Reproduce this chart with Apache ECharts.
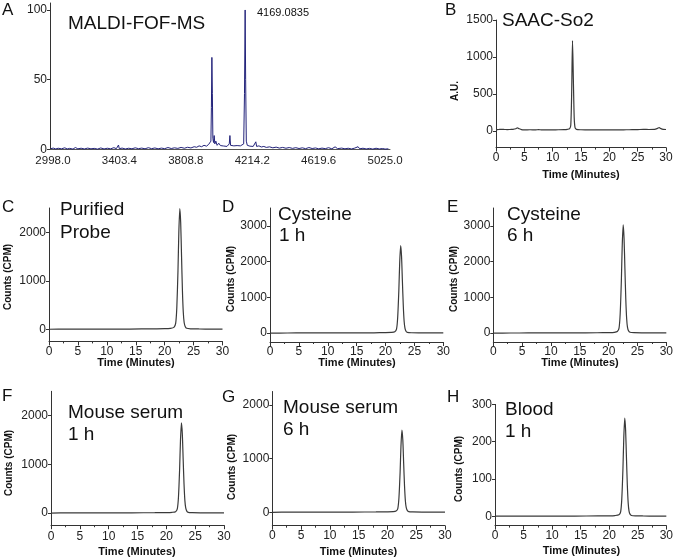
<!DOCTYPE html>
<html>
<head>
<meta charset="utf-8">
<script src="https://cdn.jsdelivr.net/npm/echarts@6/dist/echarts.min.js"></script>
<style>html,body{margin:0;padding:0;background:#fff}#c{width:676px;height:560px}</style>
</head>
<body>
<div id="c"></div>
<script>
// ---------- data ----------
const timeTicks = [0, 5, 10, 15, 20, 25, 30];
const msTicks = [2998.0, 3403.4, 3808.8, 4214.2, 4619.6, 5025.0];
const msYTicks = [0, 50, 100];
const auTicks = [0, 500, 1000, 1500];
const cpm2000Ticks = [0, 1000, 2000];
const cpm3000Ticks = [0, 1000, 2000, 3000];
const bloodTicks = [0, 100, 200, 300];

const maldiSpectrum = [
[2985,0.6],[3000,1.0],[3015,0.4],[3030,0.9],[3050,0.5],[3070,1.2],[3085,0.4],[3100,0.8],[3120,0.3],[3135,1.4],
[3150,0.5],[3170,0.9],[3190,0.4],[3210,1.0],[3230,0.5],[3250,0.8],[3270,0.3],[3290,1.1],[3310,0.4],[3330,0.9],
[3350,0.5],[3370,1.3],[3385,0.6],[3398,3.2],[3403,0.6],[3420,1.0],[3440,0.4],[3460,0.9],[3480,0.5],[3500,1.2],
[3520,0.6],[3540,1.0],[3560,0.5],[3580,1.3],[3600,0.6],[3620,1.1],[3640,0.5],[3660,1.0],[3680,0.6],[3700,1.4],
[3720,0.7],[3740,1.2],[3760,0.8],[3780,1.5],[3800,0.9],[3820,1.6],[3840,1.1],[3860,2.0],[3875,1.6],[3890,2.6],
[3905,2.0],[3920,3.0],[3935,2.4],[3948,3.6],[3956,2.8],[3962,6],[3965,30],[3968,66],[3971,40],[3974,8],
[3978,5],[3982,10],[3986,4],[3992,6],[4000,3],[4010,4.5],[4020,2.8],[4030,3.5],[4040,2.5],[4050,3.2],
[4060,2.2],[4068,3],[4074,4],[4078,10],[4082,3],[4092,3.5],[4102,2.6],[4112,3.4],[4122,2.8],[4132,3.6],
[4142,2.6],[4152,3.2],[4162,4],[4167,40],[4171,100],[4174,50],[4178,6],[4184,3],[4192,3.6],[4200,2.4],
[4210,3],[4220,2.2],[4228,3.2],[4232,2.5],[4236,5.5],[4241,2.2],[4255,2.6],[4270,1.8],[4285,2.2],[4300,1.5],
[4320,1.9],[4340,1.2],[4360,1.7],[4380,1.0],[4400,1.5],[4420,0.9],[4440,1.4],[4460,0.8],[4480,1.3],[4500,0.7],
[4520,1.2],[4540,0.6],[4560,1.4],[4580,0.7],[4600,1.1],[4620,0.5],[4640,1.0],[4660,0.6],[4680,1.3],[4700,0.5],
[4720,1.9],[4735,0.6],[4760,1.0],[4780,0.5],[4800,0.9],[4820,0.4],[4840,1.0],[4860,2.0],[4870,0.5],[4890,0.9],
[4910,0.4],[4930,0.8],[4950,0.3],[4970,0.9],[4990,0.4],[5010,0.7],[5025,0.3],[5045,0.5]
];

const saacSo2 = [
[0,18],[0.5,20],[1,22],[1.5,20],[2,18],[2.5,20],[3,22],[3.5,30],[3.8,42],[4.1,30],[4.5,18],[5,15],[6,16],[7,14],
[7.5,18],[8,15],[9,14],[10,15],[11,16],[12,18],[12.6,22],[13,30],[13.2,80],[13.35,500],[13.5,1220],[13.65,700],
[13.8,180],[13.95,45],[14.2,22],[15,16],[16,15],[17,14],[18,15],[19,14],[20,15],[21,14],[22,15],[23,16],[24,17],
[25,18],[26,22],[27,20],[28,22],[28.5,35],[28.8,45],[29.1,32],[29.5,22],[30,20]
];

const purifiedProbe = [
[0,0],[3,2],[6,3],[10,4],[14,5],[18,8],[20,12],[21,20],[21.6,40],[21.9,120],[22.1,450],[22.3,1200],[22.45,2000],
[22.62,2490],[22.77,2200],[22.92,1500],[23.07,800],[23.22,350],[23.37,140],[23.57,50],[23.8,20],[24.5,10],[26,6],[28,4],[30,3]
];
const cysteine1h = [
[0,0],[3,2],[6,3],[10,3],[14,5],[18,8],[20,12],[21,18],[21.6,35],[21.9,110],[22.1,430],[22.3,1180],[22.45,1960],
[22.62,2445],[22.77,2150],[22.92,1450],[23.07,780],[23.22,330],[23.37,130],[23.57,45],[23.8,18],[24.5,9],[26,6],[28,4],[30,3]
];
const cysteine6h = [
[0,0],[3,2],[6,3],[10,4],[14,6],[18,9],[20,14],[21,22],[21.5,45],[21.8,140],[22.0,540],[22.2,1450],[22.35,2420],
[22.52,3025],[22.67,2650],[22.82,1800],[22.97,960],[23.12,410],[23.27,160],[23.47,55],[23.7,22],[24.4,10],[26,6],[28,4],[30,3]
];
const serum1h = [
[0,0],[3,2],[6,3],[10,3],[14,5],[18,7],[20,10],[21,15],[21.6,28],[21.9,85],[22.1,320],[22.3,890],[22.45,1480],
[22.62,1854],[22.77,1630],[22.92,1100],[23.07,590],[23.22,250],[23.37,100],[23.57,35],[23.8,14],[24.5,8],[26,5],[28,3],[30,2]
];
const serum6h = [
[0,0],[3,2],[6,2],[10,3],[14,4],[18,6],[20,9],[21,13],[21.5,24],[21.8,70],[22.0,270],[22.2,740],[22.35,1230],
[22.52,1533],[22.67,1350],[22.82,910],[22.97,490],[23.12,210],[23.27,85],[23.47,30],[23.7,12],[24.4,7],[26,4],[28,3],[30,2]
];
const blood1h = [
[0,0.3],[3,0.4],[6,0.4],[10,0.5],[14,0.6],[18,0.9],[20,1.3],[21,2],[21.7,4],[22.0,12],[22.2,46],[22.4,126],[22.55,210],
[22.72,263],[22.87,231],[23.02,156],[23.17,84],[23.32,36],[23.47,14],[23.67,5],[23.9,2.2],[24.6,1.2],[26,0.8],[28,0.5],[30,0.4]
];

// ---------- layout / style ----------
const FONT = '"Liberation Sans", Arial, sans-serif';
const AX = '#333';
const panels = [
  {grid:{left:50, top:3, width:340, height:146.5}},
  {grid:{left:496, top:20, width:170, height:127.6}},
  {grid:{left:49, top:208, width:173.5, height:133.4}},
  {grid:{left:270, top:208, width:173.3, height:134}},
  {grid:{left:493.3, top:208, width:173.4, height:134}},
  {grid:{left:51, top:391.3, width:173, height:133.9}},
  {grid:{left:272.3, top:391.5, width:172.7, height:134.2}},
  {grid:{left:495, top:404.4, width:173.3, height:121.2}}
];
const plain = v => String(Math.round(v));

function timeX(i, margin) {
  return {
    gridIndex:i, type:'value', min:0, max:30, interval:5,
    axisLine:{onZero:false, lineStyle:{color:AX, width:1}},
    axisTick:{show:true, length:4, lineStyle:{color:AX}},
    minorTick:{show:true, splitNumber:2, length:2, lineStyle:{color:AX}},
    axisLabel:{fontSize:12, color:'#222', fontFamily:FONT, margin:margin, customValues:timeTicks, formatter:plain},
    splitLine:{show:false}, minorSplitLine:{show:false}
  };
}
function valY(i, min, max, ticks) {
  return {
    gridIndex:i, type:'value', min:min, max:max,
    axisLine:{show:true, onZero:false, lineStyle:{color:AX, width:1}},
    axisTick:{show:true, length:3, lineStyle:{color:AX}, customValues:ticks},
    axisLabel:{fontSize:12, color:'#222', fontFamily:FONT, margin:3, customValues:ticks, formatter:plain},
    splitLine:{show:false}
  };
}

const xAxes = [
  {
    gridIndex:0, type:'value', min:2980, max:5055,
    axisLine:{onZero:false, lineStyle:{color:'#555', width:1}},
    axisTick:{show:false},
    axisLabel:{fontSize:11.5, color:'#222', fontFamily:FONT, margin:5, customValues:msTicks,
               formatter:v => Number(v).toFixed(1)},
    splitLine:{show:false}
  },
  timeX(1, 4), timeX(2, 4), timeX(3, 4), timeX(4, 4), timeX(5, 5), timeX(6, 4), timeX(7, 4)
];
const yAxes = [
  valY(0, 0, 105, msYTicks),
  valY(1, -225, 1500, auTicks),
  valY(2, -250, 2500, cpm2000Ticks),
  valY(3, -250, 3500, cpm3000Ticks),
  valY(4, -250, 3500, cpm3000Ticks),
  valY(5, -250, 2500, cpm2000Ticks),
  valY(6, -250, 2250, cpm2000Ticks),
  valY(7, -25, 300, bloodTicks)
];

const seriesData = [maldiSpectrum, saacSo2, purifiedProbe, cysteine1h, cysteine6h, serum1h, serum6h, blood1h];
const series = seriesData.map((d, i) => ({
  type:'line', xAxisIndex:i, yAxisIndex:i, data:d, showSymbol:false, symbol:'none',
  smooth: i === 0 ? false : 0.25,
  lineStyle:{color: i === 0 ? '#22227a' : '#3a3a3a', width: i === 0 ? 1 : 1.2},
  animation:false, silent:true
}));

function txt(x, y, s, size, opts) {
  opts = opts || {};
  return {
    type:'text', x:x, y:y, rotation:opts.rot || 0, silent:true,
    style:{text:s, fontSize:size, fontFamily:FONT, fontWeight:opts.bold ? 'bold' : 'normal',
           fill:'#111', align:opts.align || 'left', verticalAlign:'middle'}
  };
}
const R = Math.PI / 2;
const graphics = [
  // panel letters
  txt(2, 10, 'A', 17), txt(445, 10, 'B', 17), txt(2, 207.5, 'C', 17), txt(222, 207.5, 'D', 17),
  txt(447, 207.5, 'E', 17), txt(2, 396, 'F', 17), txt(222, 397, 'G', 17), txt(447, 397, 'H', 17),
  // annotations
  txt(68, 23.5, 'MALDI-FOF-MS', 19), txt(257, 12.5, '4169.0835', 11),
  txt(502, 20.5, 'SAAC-So2', 19),
  txt(60, 210, 'Purified', 19), txt(60, 232.5, 'Probe', 19),
  txt(278, 214.5, 'Cysteine', 19), txt(279, 236, '1 h', 19),
  txt(507, 215, 'Cysteine', 19), txt(507, 236, '6 h', 19),
  txt(68, 412.5, 'Mouse serum', 19), txt(68, 435, '1 h', 19),
  txt(283, 407.5, 'Mouse serum', 19), txt(283, 430, '6 h', 19),
  txt(505, 409.5, 'Blood', 19), txt(505, 432, '1 h', 19),
  // axis titles
  txt(455.5, 91, 'A.U.', 10, {rot:R, align:'center', bold:true}),
  txt(8, 277, 'Counts (CPM)', 10, {rot:R, align:'center', bold:true}),
  txt(231, 279, 'Counts (CPM)', 10, {rot:R, align:'center', bold:true}),
  txt(454, 279, 'Counts (CPM)', 10, {rot:R, align:'center', bold:true}),
  txt(9.5, 463, 'Counts (CPM)', 10, {rot:R, align:'center', bold:true}),
  txt(232, 467, 'Counts (CPM)', 10, {rot:R, align:'center', bold:true}),
  txt(459, 469, 'Counts (CPM)', 10, {rot:R, align:'center', bold:true}),
  txt(581, 175, 'Time (Minutes)', 11, {align:'center', bold:true}),
  txt(136, 363, 'Time (Minutes)', 11, {align:'center', bold:true}),
  txt(357, 363, 'Time (Minutes)', 11, {align:'center', bold:true}),
  txt(580, 363, 'Time (Minutes)', 11, {align:'center', bold:true}),
  txt(137, 552, 'Time (Minutes)', 11, {align:'center', bold:true}),
  txt(358.5, 552, 'Time (Minutes)', 11, {align:'center', bold:true}),
  txt(581.5, 551, 'Time (Minutes)', 11, {align:'center', bold:true})
];

const chart = echarts.init(document.getElementById('c'), null, {renderer:'canvas'});
chart.setOption({
  backgroundColor:'#fff',
  animation:false,
  grid: panels.map(p => Object.assign({containLabel:false}, p.grid)),
  xAxis: xAxes,
  yAxis: yAxes,
  series: series,
  graphic: graphics
});
</script>
</body>
</html>
